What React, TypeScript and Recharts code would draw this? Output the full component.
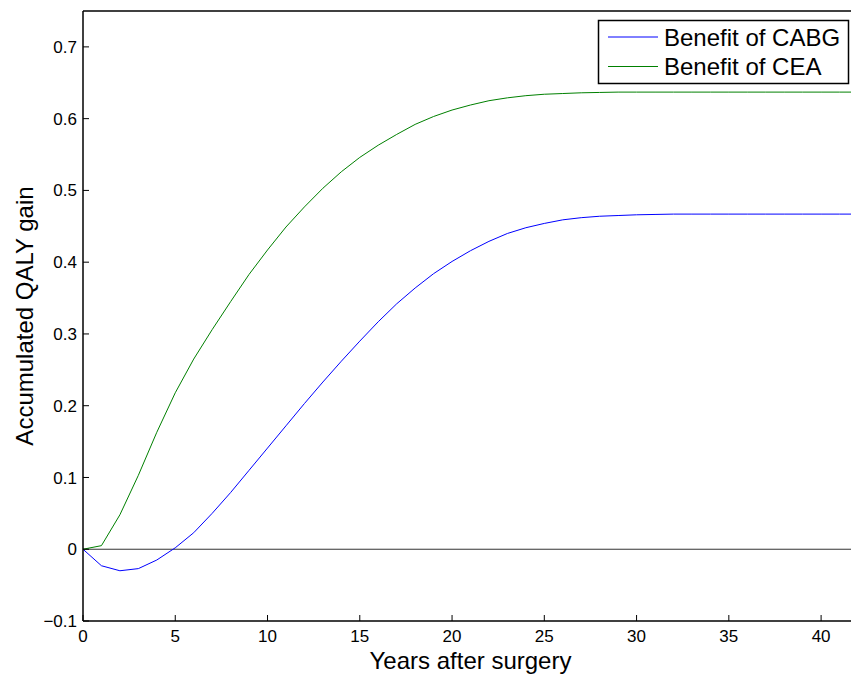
import React from 'react'
import { LineChart, Line, XAxis, YAxis, ReferenceLine } from 'recharts'

const years = [
    0, 1, 2, 3, 4, 5, 6, 7, 8, 9, 10, 11, 12, 13, 14, 15, 16, 17, 18, 19, 20,
    21, 22, 23, 24, 25, 26, 27, 28, 29, 30, 31, 32, 33, 34, 35, 36, 37, 38, 39, 40, 41, 42,
]

const cabgBenefit = [
    0, -0.023, -0.03, -0.027, -0.015, 0.002, 0.023, 0.05, 0.079, 0.11, 0.141,
    0.172, 0.203, 0.233, 0.262, 0.29, 0.317, 0.342, 0.364, 0.384, 0.401,
    0.416, 0.429, 0.44, 0.448, 0.454, 0.459, 0.462, 0.464, 0.465, 0.466,
    0.4665, 0.467, 0.467, 0.467, 0.467, 0.467, 0.467, 0.467, 0.467, 0.467, 0.467, 0.467,
]

const ceaBenefit = [
    0, 0.005, 0.048, 0.103, 0.163, 0.218, 0.265, 0.306, 0.345, 0.383, 0.417,
    0.449, 0.477, 0.503, 0.526, 0.546, 0.563, 0.578, 0.592, 0.603, 0.612,
    0.619, 0.625, 0.629, 0.632, 0.634, 0.635, 0.636, 0.6365, 0.637, 0.637,
    0.637, 0.637, 0.637, 0.637, 0.637, 0.637, 0.637, 0.637, 0.637, 0.637, 0.637, 0.637,
]

const xTicks = [0, 5, 10, 15, 20, 25, 30, 35, 40]
const yTicks = [-0.1, 0, 0.1, 0.2, 0.3, 0.4, 0.5, 0.6, 0.7]

const seriesKeys = ['cabg', 'cea']
const seriesNames = ['Benefit of CABG', 'Benefit of CEA']
const seriesColors = ['#0000ff', '#008000']

const FONT = '"Liberation Sans", Arial, Helvetica, sans-serif'

const data = years.map((year, i) => ({
    year,
    cabg: cabgBenefit[i],
    cea: ceaBenefit[i],
}))

const formatY = (v: number) => {
    if (v === 0) return '0'
    if (v < 0) return '\u2212' + Math.abs(v).toFixed(1)
    return v.toFixed(1)
}

// rotated y title, baseline sits at x = 33
const YTitle = (props: any) => {
    const { viewBox } = props
    const cx = 33
    const cy = viewBox.y + viewBox.height / 2
    return (
        <text
            x={cx}
            y={cy}
            transform={`rotate(-90 ${cx} ${cy})`}
            textAnchor="middle"
            fontSize={24}
            fontFamily={FONT}
            fill="#000"
        >
            Accumulated QALY gain
        </text>
    )
}

const axisLine = { stroke: '#000', strokeWidth: 1.5 }
const tickLine = { stroke: '#000', strokeWidth: 1 }
const tickStyle = { fontSize: 17, fontFamily: FONT, fill: '#000' }

export default function App() {
    return (
        <div style={{ position: 'absolute', left: 0, top: 0, width: 851, height: 674, overflow: 'hidden', background: '#fff' }}>
            <LineChart width={870} height={674} data={data} margin={{ top: 0, right: 0, bottom: 0, left: 0 }}>
                <XAxis
                    dataKey="year"
                    type="number"
                    domain={[0, 42]}
                    ticks={xTicks}
                    height={53}
                    tickSize={-6}
                    tickMargin={15}
                    axisLine={axisLine}
                    tickLine={tickLine}
                    tick={tickStyle}
                    label={{ value: 'Years after surgery', position: 'insideBottom', offset: 5.5, fontSize: 24, fontFamily: FONT, fill: '#000' }}
                />
                <XAxis
                    xAxisId="top"
                    orientation="top"
                    type="number"
                    domain={[0, 42]}
                    ticks={xTicks}
                    height={11}
                    tickSize={-6}
                    axisLine={axisLine}
                    tickLine={tickLine}
                    tick={false}
                />
                <YAxis
                    type="number"
                    domain={[-0.1, 0.75]}
                    ticks={yTicks}
                    width={83}
                    tickSize={-6}
                    tickMargin={12}
                    tickFormatter={formatY}
                    axisLine={axisLine}
                    tickLine={tickLine}
                    tick={tickStyle}
                    label={<YTitle />}
                />
                <YAxis
                    yAxisId="right"
                    orientation="right"
                    type="number"
                    domain={[-0.1, 0.75]}
                    ticks={yTicks}
                    width={12}
                    tickSize={-6}
                    axisLine={axisLine}
                    tickLine={tickLine}
                    tick={false}
                />
                <ReferenceLine y={0} stroke="#333" strokeWidth={1} />
                {seriesKeys.map((key, i) => (
                    <Line
                        key={key}
                        dataKey={key}
                        name={seriesNames[i]}
                        type="linear"
                        stroke={seriesColors[i]}
                        strokeWidth={1}
                        dot={false}
                        isAnimationActive={false}
                    />
                ))}
            </LineChart>
            <svg width={851} height={674} style={{ position: 'absolute', left: 0, top: 0, pointerEvents: 'none' }}>
                <rect x={598.5} y={20.5} width={250} height={63} fill="#fff" stroke="#000" strokeWidth={1.5} />
                {seriesNames.map((name, i) => (
                    <g key={name}>
                        <line x1={608} x2={658} y1={37 + i * 29.5} y2={37 + i * 29.5} stroke={seriesColors[i]} strokeWidth={1} />
                        <text x={664} y={45.5 + i * 29} fontSize={24} fontFamily={FONT} fill="#000">
                            {name}
                        </text>
                    </g>
                ))}
            </svg>
        </div>
    )
}
